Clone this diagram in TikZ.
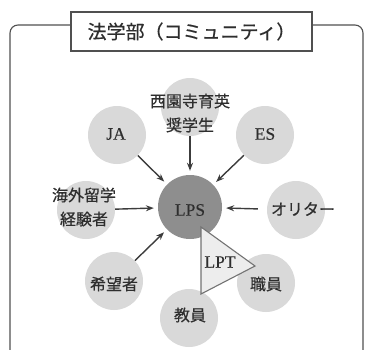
\documentclass[tikz,border=0pt]{standalone}
\usepackage{fontspec}
\setmainfont[FakeBold=0.3]{Liberation Serif}
\newfontfamily\jfont[FakeBold=0.6]{Noto Sans CJK JP}
\usetikzlibrary{arrows.meta}
\definecolor{circ}{HTML}{D9D9D9}
\definecolor{lpsc}{HTML}{8E8E8E}
\definecolor{framec}{HTML}{505050}
\definecolor{arrc}{HTML}{3C3C3C}
\definecolor{txtc}{HTML}{2E2E2E}
\definecolor{trif}{HTML}{EDEDED}
\begin{document}
\begin{tikzpicture}[x=1pt,y=-1pt,
  bub/.style={circle,fill=circ,minimum size=58pt,inner sep=0pt},
  jlab/.style={font=\jfont\fontsize{16}{24}\selectfont,text=txtc,align=center,inner sep=0pt},
  elab/.style={font=\fontsize{17.5}{19}\selectfont,text=txtc,inner sep=0pt},
  arr/.style={draw=arrc,line width=1.4pt,-{Stealth[length=8pt,width=6pt]},shorten >=4pt}]
\useasboundingbox (0,0) rectangle (366,349);
% frame
\draw[framec,line width=1.1pt,rounded corners=8pt] (10,352) -- (10,25) -- (71,25);
\draw[framec,line width=1.1pt,rounded corners=8pt] (312,25) -- (363,25) -- (363,352);
\node[draw=framec,line width=1.1pt,fill=white,minimum width=241pt,minimum height=39pt,inner sep=0pt,
  font=\jfont\fontsize{19}{22}\selectfont,text=txtc] (title) at (191.5,31.5) {法学部（コミュニティ）};
% bubbles
\node[bub] (top) at (190,107) {};
\node[bub] (ja) at (117,135) {};
\node[bub] (es) at (265,135) {};
\node[bub] (abroad) at (86,210) {};
\node[bub] (orit) at (296,210) {};
\node[bub] (hope) at (114,281) {};
\node[bub] (staff) at (266,283) {};
\node[bub] (fac) at (189,318) {};
\node[circle,fill=lpsc,minimum size=64pt,inner sep=0pt] (lps) at (190,207) {};
% labels
\node[jlab] (topt) at (190,113) {西園寺育英\\奨学生};
\node[elab] (jat) at (116,134) {JA};
\node[elab] (est) at (265,134) {ES};
\node[jlab] (abroadt) at (84,207) {海外留学\\経験者};
\node[jlab] (oritt) at (303,209) {オリター};
\node[jlab] (hopet) at (114,284) {希望者};
\node[jlab] (stafft) at (266,284) {職員};
\node[jlab] (fact) at (190,315) {教員};
\node[elab] (lpst) at (190,210) {LPS};
% arrows
\draw[arr] (ja) -- (lps);
\draw[arr] (top) -- (lps);
\draw[arr] (es) -- (lps);
\draw[arr] (abroad) -- (lps);
\draw[arr,shorten <=9pt] (orit) -- (lps);
\draw[arr] (hope) -- (lps);
% LPT triangle
\coordinate (t1) at (201,227);
\coordinate (t2) at (255,266);
\coordinate (t3) at (201,294);
\draw[fill=trif,draw=framec!80,line width=1.1pt] (t1) -- (t2) -- (t3) -- cycle;
\node[elab] (lpt) at (220,262) {LPT};
\end{tikzpicture}
\end{document}
